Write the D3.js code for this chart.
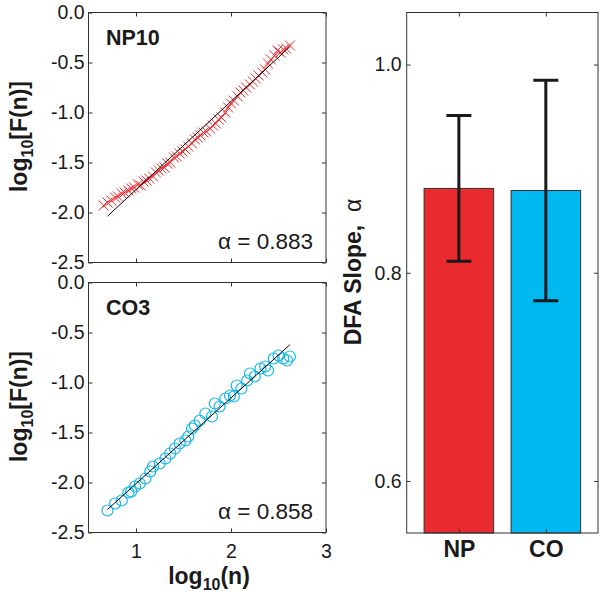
<!DOCTYPE html>
<html><head><meta charset="utf-8">
<script src="https://cdn.jsdelivr.net/npm/d3@7"></script>
<style>
body{margin:0;background:#fff;}
text{font-family:Arial,"Liberation Sans",Helvetica,sans-serif;}
</style></head>
<body><svg id="c" width="604" height="600"></svg>
<script>
// ---------- data ----------
const npX = [0.66,0.70,0.74,0.78,0.81,0.85,0.88,0.92,0.95,0.98,1.02,1.05,1.08,1.11,1.14,1.18,1.21,1.24,1.27,1.30,1.33,1.36,1.40,1.43,1.46,1.49,1.52,1.55,1.59,1.62,1.65,1.68,1.71,1.74,1.78,1.81,1.84,1.87,1.90,1.94,1.97,2.00,2.03,2.07,2.10,2.13,2.16,2.20,2.23,2.26,2.29,2.33,2.36,2.39,2.42,2.46,2.49,2.52,2.55,2.58,2.62];
const npY = [-1.93,-1.90,-1.88,-1.85,-1.84,-1.81,-1.80,-1.78,-1.76,-1.75,-1.72,-1.73,-1.69,-1.68,-1.66,-1.64,-1.60,-1.58,-1.56,-1.55,-1.51,-1.50,-1.45,-1.44,-1.41,-1.39,-1.37,-1.34,-1.31,-1.27,-1.25,-1.23,-1.20,-1.19,-1.16,-1.13,-1.11,-1.07,-1.05,-1.00,-0.95,-0.91,-0.88,-0.84,-0.80,-0.78,-0.75,-0.72,-0.69,-0.66,-0.63,-0.60,-0.57,-0.51,-0.47,-0.43,-0.38,-0.40,-0.37,-0.36,-0.33];
const coX = [0.70,0.78,0.85,0.92,0.95,0.99,1.04,1.10,1.15,1.18,1.25,1.31,1.36,1.41,1.46,1.52,1.55,1.59,1.62,1.67,1.73,1.80,1.83,1.88,1.94,1.99,2.03,2.06,2.11,2.17,2.20,2.25,2.31,2.36,2.39,2.45,2.50,2.55,2.59,2.62];
const coY = [-2.28,-2.21,-2.18,-2.10,-2.09,-2.04,-2.01,-1.96,-1.89,-1.84,-1.81,-1.76,-1.71,-1.66,-1.61,-1.58,-1.54,-1.46,-1.43,-1.38,-1.31,-1.34,-1.21,-1.24,-1.16,-1.13,-1.14,-1.03,-1.06,-0.98,-0.91,-0.94,-0.86,-0.84,-0.88,-0.76,-0.73,-0.76,-0.78,-0.74];
const panelNames = ["NP10","CO3"];
const fitAlpha = [0.883, 0.858];
const fitIntercept = [-2.655, -2.870];
const fitRange = [0.70, 2.62];
const logXTicks = [1,2,3];
const logYTicks = [0.0,-0.5,-1.0,-1.5,-2.0,-2.5];
const groups = ["NP","CO"];
const means = [0.881, 0.879];
const errs = [0.070, 0.106];
const barYTicks = [0.6,0.8,1.0];

// ---------- drawing ----------
const svg = d3.select("#c");
svg.append("rect").attr("width",604).attr("height",600).attr("fill","#fff");
const RED="#ee2a30", CYAN="#13b6ea", AXC="#333", TXT="#1a1a1a";
const TICK=4, TFS=19.5, LFS=23;

function logPanel(top, idx, showX){
  const x = d3.scaleLinear().domain([0.5,3]).range([88.5,326]);
  const y = d3.scaleLinear().domain([-2.5,0]).range([top+250,top]);
  const g = svg.append("g");
  const xb = g.append("g").attr("transform",`translate(0,${top+250})`)
    .call(d3.axisBottom(x).tickValues(logXTicks).tickSizeInner(-TICK).tickSizeOuter(0).tickFormat(showX?d3.format("d"):""));
  const xt = g.append("g").attr("transform",`translate(0,${top})`)
    .call(d3.axisTop(x).tickValues(logXTicks).tickSizeInner(-TICK).tickSizeOuter(0).tickFormat(""));
  const yl = g.append("g").attr("transform",`translate(88.5,0)`)
    .call(d3.axisLeft(y).tickValues(logYTicks).tickSizeInner(-TICK).tickSizeOuter(0).tickFormat(d3.format(".1f")));
  const yr = g.append("g").attr("transform",`translate(326,0)`)
    .call(d3.axisRight(y).tickValues(logYTicks).tickSizeInner(-TICK).tickSizeOuter(0).tickFormat(""));
  [xb,xt,yl,yr].forEach(a=>{a.select(".domain").remove();a.selectAll("line").attr("stroke",AXC);
    a.selectAll("text").attr("font-size",TFS).attr("fill",TXT).attr("font-family","Arial, 'Liberation Sans', sans-serif");});
  yl.selectAll("text").attr("x",-4).text(d=>d3.format(".1f")(d).replace("\u2212","-"));
  xb.selectAll("text").attr("y",12);
  g.append("rect").attr("x",88.5).attr("y",top).attr("width",326-88.5).attr("height",250)
    .attr("fill","none").attr("stroke",AXC).attr("stroke-width",1);

  if(idx===0){
    const pts = npX.map((v,i)=>[v,npY[i]]);
    g.append("path").datum(pts).attr("fill","none").attr("stroke",RED).attr("stroke-width",0.8).attr("opacity",0.8)
      .attr("d",d3.line().x(d=>x(d[0])).y(d=>y(d[1])));
    const s=5;
    g.selectAll(".cr").data(pts).join("path").attr("fill","none").attr("stroke",RED).attr("stroke-width",1)
      .attr("d",d=>{const cx=x(d[0]),cy=y(d[1]);return `M${cx-s},${cy-s}L${cx+s},${cy+s}M${cx-s},${cy+s}L${cx+s},${cy-s}`;});
  } else {
    const pts = coX.map((v,i)=>[v,coY[i]]);
    g.selectAll(".ci").data(pts).join("circle").attr("cx",d=>x(d[0])).attr("cy",d=>y(d[1])).attr("r",5.5)
      .attr("fill","none").attr("stroke",CYAN).attr("stroke-width",1.2);
  }
  const fl = fitRange.map(v=>[v, fitIntercept[idx]+fitAlpha[idx]*v]);
  g.append("path").datum(fl).attr("stroke","#000").attr("stroke-width",1).attr("fill","none")
    .attr("d",d3.line().x(d=>x(d[0])).y(d=>y(d[1])));
  g.append("text").attr("x",106).attr("y",top+32.5).attr("font-size",21.5).attr("font-weight","bold").attr("fill",TXT).text(panelNames[idx]);
  g.append("text").attr("x",313).attr("y",top+236).attr("text-anchor","end").attr("font-size",22.5).attr("fill",TXT)
    .text("\u03B1 = "+d3.format(".3f")(fitAlpha[idx]));
  const yt = g.append("text").attr("transform",`translate(27,${top+124}) rotate(-90)`).attr("text-anchor","middle")
    .attr("font-size",LFS).attr("font-weight","bold").attr("fill",TXT);
  yt.append("tspan").text("log");
  yt.append("tspan").attr("font-size",16).attr("dy",6).text("10");
  yt.append("tspan").attr("dy",-6).text("[F(n)]");
}
logPanel(12.5,0,false);
logPanel(282.5,1,true);

const xl = svg.append("text").attr("x",209).attr("y",584).attr("text-anchor","middle")
  .attr("font-size",LFS).attr("font-weight","bold").attr("fill",TXT);
xl.append("tspan").text("log");
xl.append("tspan").attr("font-size",16).attr("dy",6).text("10");
xl.append("tspan").attr("dy",-6).text("(n)");

// bar panel
const bx = d3.scaleLinear().domain([0.4,2.6]).range([406.7,598]);
const by = d3.scaleLinear().domain([0.55,1.05]).range([533,12.5]);
const bg = svg.append("g");
const bw = bx(1.4)-bx(0.6);
bg.selectAll(".bar").data(groups).join("rect")
  .attr("x",(d,i)=>bx(i+1)-bw/2).attr("width",bw)
  .attr("y",(d,i)=>by(means[i])).attr("height",(d,i)=>by(0.55)-by(means[i]))
  .attr("fill",(d,i)=>i===0?"#e92a2f":"#00b9f0").attr("stroke","#333").attr("stroke-width",1);
const ba = bg.append("g").attr("transform","translate(0,533)")
  .call(d3.axisBottom(bx).tickValues([1,2]).tickSizeInner(-TICK).tickSizeOuter(0).tickFormat((d,i)=>groups[i]));
const bt = bg.append("g").attr("transform","translate(0,12.5)")
  .call(d3.axisTop(bx).tickValues([1,2]).tickSizeInner(-TICK).tickSizeOuter(0).tickFormat(""));
const bl = bg.append("g").attr("transform","translate(406.7,0)")
  .call(d3.axisLeft(by).tickValues(barYTicks).tickSizeInner(-TICK).tickSizeOuter(0).tickFormat(d3.format(".1f")));
const br = bg.append("g").attr("transform","translate(598,0)")
  .call(d3.axisRight(by).tickValues(barYTicks).tickSizeInner(-TICK).tickSizeOuter(0).tickFormat(""));
[ba,bt,bl,br].forEach(a=>{a.select(".domain").remove();a.selectAll("line").attr("stroke",AXC);
  a.selectAll("text").attr("fill",TXT).attr("font-family","Arial, 'Liberation Sans', sans-serif");});
bl.selectAll("text").attr("font-size",TFS).attr("x",-5);
ba.selectAll("text").attr("font-size",LFS).attr("font-weight","bold").attr("y",8);
const cap=12.5;
groups.forEach((gname,i)=>{
  const cx=bx(i+1), y1=by(means[i]+errs[i]), y0=by(means[i]-errs[i]);
  bg.append("path").attr("fill","none").attr("stroke","#1a1a1a").attr("stroke-width",3)
    .attr("d",`M${cx},${y0}L${cx},${y1}M${cx-cap},${y1}L${cx+cap},${y1}M${cx-cap},${y0}L${cx+cap},${y0}`);
});
bg.append("rect").attr("x",406.7).attr("y",12.5).attr("width",598-406.7).attr("height",533-12.5)
  .attr("fill","none").attr("stroke",AXC).attr("stroke-width",1);
const bl2 = svg.append("text").attr("transform","translate(361,272) rotate(-90)").attr("text-anchor","middle")
  .attr("font-size",LFS).attr("font-weight","bold").attr("fill",TXT);
bl2.append("tspan").text("DFA Slope,\u00A0\u00A0");
bl2.append("tspan").attr("font-weight","normal").text("\u03B1");
</script></body></html>
